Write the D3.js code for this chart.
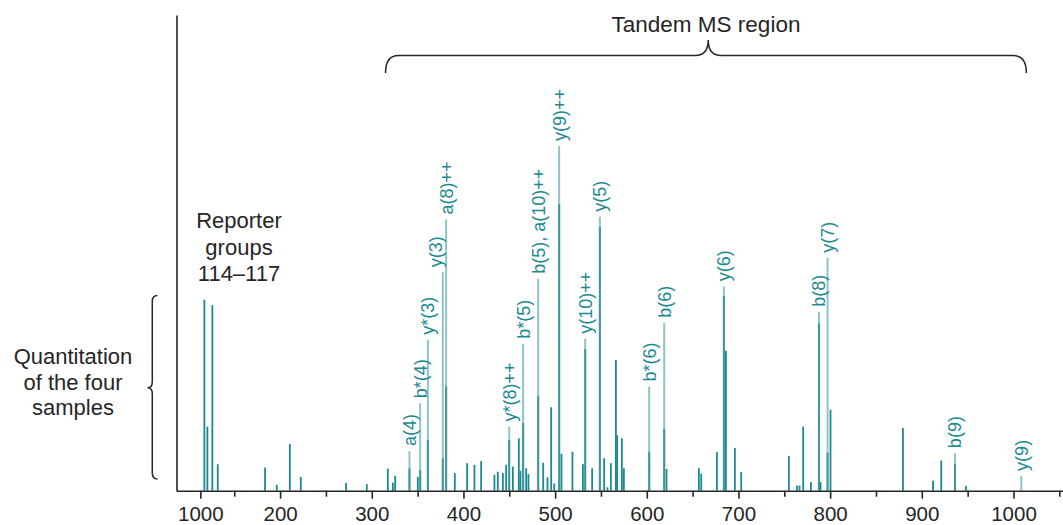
<!DOCTYPE html>
<html><head><meta charset="utf-8">
<script src="https://cdn.jsdelivr.net/npm/d3@7"></script>
<style>
html,body{margin:0;padding:0;background:#fff;}
svg{display:block;font-family:"Liberation Sans",Arial,sans-serif;}
</style></head>
<body><svg id="c" width="1063" height="525"></svg>
<script>
// m/z positions of peaks
const peakMz = [117.4,120.7,126.1,132.0,183.6,196.4,210.6,222.6,272.0,294.6,317.5,323.0,325.5,341.1,350.2,352.8,361.2,377.5,381.1,
 390.6,404.0,412.0,419.3,433.8,437.5,443.0,446.6,449.9,453.9,460.4,462.2,465.1,468.4,470.9,481.5,487.0,491.7,495.7,499.0,504.4,506.9,
 518.9,530.3,532.8,540.4,548.8,553.5,557.1,560.8,566.3,567.7,572.8,575.0,602.6,619.0,621.5,656.8,659.4,676.5,684.1,686.3,696.1,703.0,
 755.0,763.8,766.6,770.6,779.0,787.8,789.5,797.2,800.4,879.4,912.2,921.2,936.2,948.2,1008.5];
// relative intensity (% of base peak)
const peakIntensity = [55.4,18.6,53.8,7.7,6.7,1.7,13.6,4.0,2.2,1.9,6.4,2.3,4.3,11.5,4.0,25.4,43.8,63.4,78.7,
 5.1,8.0,7.5,8.6,4.6,5.5,5.1,7.5,18.6,7.0,15.2,5.8,42.6,6.5,4.8,61.5,8.1,3.9,24.2,2.1,100,10.7,
 11.3,7.7,44.1,6.5,79.5,9.4,1.0,8.0,37.9,16.1,15.2,6.5,30.2,48.7,6.3,6.5,4.9,11.2,59.3,40.6,12.4,5.4,
 10.1,1.5,1.5,18.6,2.5,51.9,2.5,67.6,23.5,18.2,2.9,8.8,10.9,1.4,4.3];
// fragment-ion labels (empty = unlabeled)
const peakLabels = ["","","","","","","","","","","","","","a(4)","","b*(4)","y*(3)","y(3)","a(8)++",
 "","","","","","","","","y*(8)++","","","","b*(5)","","","b(5), a(10)++","","","","","y(9)++","",
 "","","y(10)++","","y(5)","","","","","","","","b*(6)","b(6)","","","","","y(6)","","","",
 "","","","","","b(8)","","y(7)","","","","","b(9)","","y(9)"];
// intensity of the overlaid (darker) component of labeled peaks
const labeledInner = {"a(4)":6.5,"b*(4)":6.0,"y*(3)":14.7,"y(3)":9.4,"a(8)++":30.2,"y*(8)++":14.7,"b*(5)":19.6,
 "b(5), a(10)++":27.5,"y(9)++":83.1,"y(10)++":41.1,"y(5)":76.5,"b*(6)":11.3,"b(6)":17.9,"y(6)":56.4,
 "b(8)":48.5,"y(7)":11.0,"b(9)":7.8,"y(9)":0};
const majorTicks = [113,200,300,400,500,600,700,800,900,1000];
const majorTickLabels = ["1000","200","300","400","500","600","700","800","900","1000"];
const minorTicks = [150,250,350,450,550,650,750,850,950,1050];

const svg = d3.select("#c");
const x = d3.scaleLinear().domain([87,1054]).range([176.5,1063]);
const y = d3.scaleLinear().domain([0,138]).range([490.7,15]);
const ink = "#262626", teal = "#1c8990", light = "#8ec5c9", mid = "#3d979c";
const labelNudge = {"y(3)":-7};

const peaks = peakMz.map((m,i)=>({mz:m, v:peakIntensity[i], label:peakLabels[i]}));

// peaks
const g = svg.append("g");
peaks.forEach(p=>{
  if(p.label){
    g.append("rect").attr("x",x(p.mz)-1).attr("width",2).attr("y",y(p.v)).attr("height",y(0)-y(p.v)).attr("fill",light);
    const inner = labeledInner[p.label];
    if(inner>0) g.append("rect").attr("x",x(p.mz)-1).attr("width",2).attr("y",y(inner)).attr("height",y(0)-y(inner)).attr("fill",mid);
  } else {
    g.append("rect").attr("x",x(p.mz)-0.9).attr("width",1.8).attr("y",y(p.v)).attr("height",y(0)-y(p.v)).attr("fill",teal);
  }
});
// peak labels
peaks.filter(p=>p.label).forEach(p=>{
  const dx = labelNudge[p.label]||0;
  svg.append("text").attr("transform",`translate(${x(p.mz)+dx},${y(p.v)-5}) rotate(-90)`)
    .attr("dy","0.36em").attr("text-anchor","start").attr("font-size",18).attr("fill",teal).text(p.label);
});

// axes
const xAxis = d3.axisBottom(x).tickValues(majorTicks).tickSize(8).tickSizeOuter(0)
  .tickFormat((d,i)=>majorTickLabels[i]);
const ax = svg.append("g").attr("transform",`translate(0,${y(0)})`).call(xAxis);
ax.select(".domain").attr("stroke",ink).attr("stroke-width",1.6);
ax.selectAll(".tick line").attr("stroke",ink).attr("stroke-width",1.6);
ax.selectAll(".tick text").attr("fill",ink).attr("font-size",20.5).attr("font-family","Liberation Sans, Arial, sans-serif").attr("dy","0.95em");
svg.append("g").attr("transform",`translate(0,${y(0)})`)
  .call(d3.axisBottom(x).tickValues(minorTicks).tickSize(6).tickFormat(""))
  .call(s=>{s.select(".domain").remove(); s.selectAll("line").attr("stroke",ink).attr("stroke-width",1.6);});
const yAxis = d3.axisLeft(y).tickValues([]).tickSizeOuter(0);
svg.append("g").attr("transform",`translate(${x(87)},0)`).call(yAxis)
  .call(s=>s.select(".domain").attr("stroke",ink).attr("stroke-width",1.6));

// annotations
const T = (tx,ty,txt,size,anchor)=>svg.append("text").attr("x",tx).attr("y",ty).attr("font-size",size)
  .attr("text-anchor",anchor||"middle").attr("fill",ink).text(txt);
T(706,32,"Tandem MS region",22.5);
T(239,228,"Reporter",22);
T(239,255,"groups",22);
T(239,281,"114–117",22);
T(73,364,"Quantitation",22);
T(73,390,"of the four",22);
T(73,415,"samples",22);

// horizontal brace
(function(){
  const x0=x(315), x1=x(1014), xc=x(667), yl=55.5, ye=73, yc=40, r=13;
  const p = `M${x0},${ye} Q${x0},${yl} ${x0+r},${yl} L${xc-r},${yl} Q${xc},${yl} ${xc},${yc} Q${xc},${yl} ${xc+r},${yl} L${x1-r},${yl} Q${x1},${yl} ${x1},${ye}`;
  svg.append("path").attr("d",p).attr("fill","none").attr("stroke",ink).attr("stroke-width",1.5);
})();
// vertical brace
(function(){
  const y0=295.5, y1=479, yc=387.7, xl=152.3, xe=157.5, xc=147.5, r=6;
  const p = `M${xe},${y0} Q${xl},${y0} ${xl},${y0+r} L${xl},${yc-r} Q${xl},${yc} ${xc},${yc} Q${xl},${yc} ${xl},${yc+r} L${xl},${y1-r} Q${xl},${y1} ${xe},${y1}`;
  svg.append("path").attr("d",p).attr("fill","none").attr("stroke",ink).attr("stroke-width",1.5);
})();
</script></body></html>
